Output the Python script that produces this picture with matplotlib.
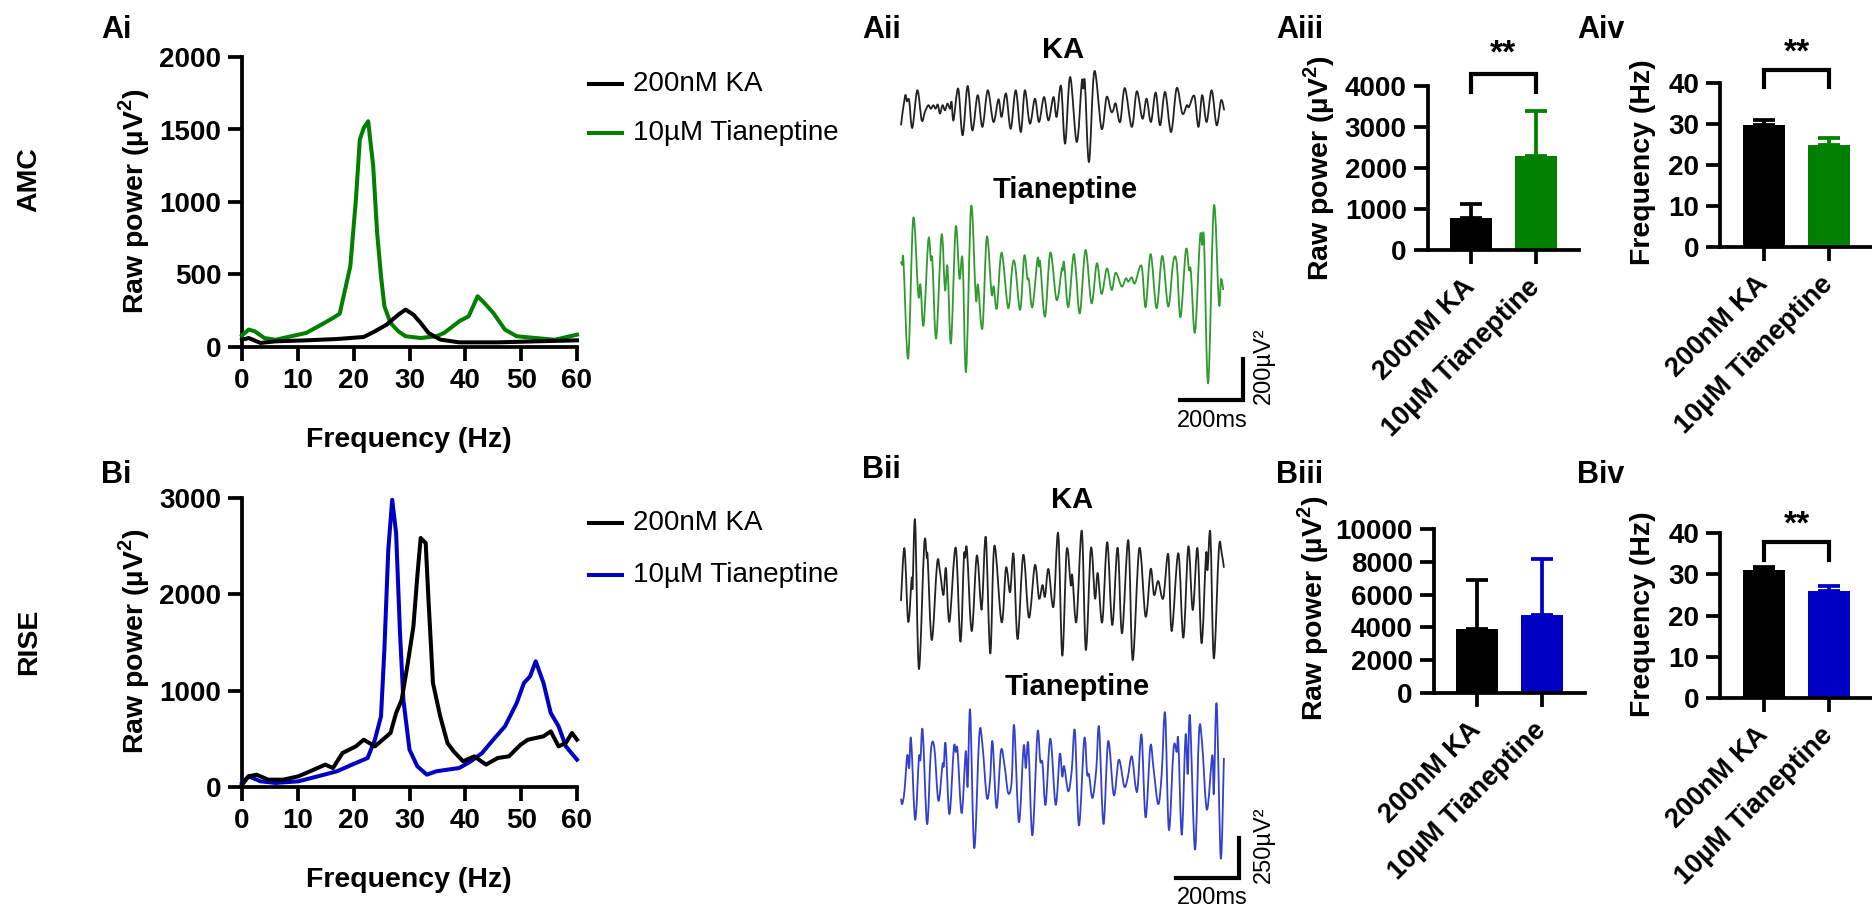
import numpy as np
import matplotlib
matplotlib.use("Agg")
import matplotlib.pyplot as plt
from matplotlib.lines import Line2D
from matplotlib.path import Path
from matplotlib.patches import PathPatch

plt.rcParams['font.family'] = ['Liberation Sans', 'DejaVu Sans']
plt.rcParams['mathtext.fontset'] = 'custom'
plt.rcParams['mathtext.rm'] = 'Liberation Sans'
plt.rcParams['mathtext.bf'] = 'Liberation Sans:bold'

# ---- power spectra (Hz, uV^2) ----
ai_ka_freq = [0, 1.2, 3.3, 6, 11.5, 17, 21.8, 23.8, 25.9, 28, 29.3, 30.7, 32, 33.4, 35.5, 38.9, 45.8, 52.6, 60]
ai_ka_pow = [50, 62, 28, 39, 46, 55, 69, 108, 154, 223, 258, 223, 166, 97, 51, 32, 32, 39, 46]
ai_tn_freq = [0, 1.2, 2.3, 4, 6, 8.8, 11.5, 14.2, 16.3, 17.5, 19.4, 20.4, 21.1, 21.8, 22.6, 23.5, 24.2, 24.9,
              25.5, 26.6, 28, 29.3, 32, 34.8, 36.2, 38.9, 40.6, 42.2, 43.4, 45, 47.1, 49.2, 52.6, 56, 60]
ai_tn_pow = [80, 120, 108, 62, 50, 74, 97, 154, 200, 230, 557, 1017, 1430, 1510, 1557, 1247, 787, 488,
             281, 166, 108, 74, 62, 74, 97, 177, 212, 350, 304, 235, 120, 74, 62, 50, 85]

bi_ka_freq = [0, 1.2, 2.6, 4.7, 7.4, 10.1, 12.2, 14.9, 16.3, 18, 20.4, 21.8, 23.8, 25.2, 26.6, 27.6, 28.6, 29.7,
              30.7, 31.4, 32, 32.9, 33.4, 34.2, 35.5, 36.8, 37.9, 39.6, 41.6, 43.7, 45.8, 47.8, 49.9, 51.2,
              54, 55.3, 56.7, 58, 59.1, 60]
bi_ka_pow = [24, 111, 128, 76, 76, 111, 163, 232, 197, 353, 422, 491, 422, 491, 561, 768, 906, 1287,
             1668, 2187, 2585, 2532, 1944, 1080, 734, 457, 370, 267, 318, 232, 301, 318, 439, 491,
             526, 578, 422, 457, 561, 491]
bi_tn_freq = [0, 1.2, 3.3, 6, 10.1, 13.6, 17, 19.7, 22.5, 23.8, 24.9, 25.5, 26.2, 26.9, 27.6, 28.3, 28.9, 30,
              31.4, 33.1, 34.8, 36.8, 38.9, 41, 43, 45, 47.1, 49.2, 50.5, 51.6, 52.6, 54, 55.3, 56.7, 58, 60]
bi_tn_pow = [42, 111, 59, 42, 59, 111, 163, 232, 301, 491, 734, 1425, 2463, 2982, 2636, 1598, 906, 388,
             215, 128, 163, 180, 197, 267, 353, 491, 630, 872, 1080, 1149, 1305, 1080, 768, 630, 422, 284]

# ---- example traces (ms, uV), peaks and troughs ----
a_ka_t = [0, 13, 19, 26, 36, 52, 66, 76, 87, 95, 103, 110, 117, 124, 132, 140, 148, 156, 161, 167, 182, 196,
          212, 227, 244, 259, 276, 294, 310, 320, 334, 349, 365, 381, 394, 410, 426, 439, 455, 469, 485, 495,
          509, 522, 538, 559, 575, 580, 585, 598, 615, 638, 654, 668, 675, 683, 697, 712, 734, 750, 768, 781,
          795, 810, 824, 840, 859, 877, 895, 909, 916, 933, 946, 958, 972, 988, 1004, 1018, 1028]
a_ka_v = [-65, 78, 52, 57, -78, 106, -41, 0, 33, 16, 33, 16, 36, -8, 33, 8, 41, 16, 49, -41, 114, -114,
          127, -90, 82, -73, 106, -49, 62, -24, 90, -82, 106, -98, 106, -57, 65, -49, 73, -41, 73, -24,
          127, -155, 171, -147, 147, 114, 143, -245, 199, -82, 73, 3, 8, 41, -49, 117, -73, 101, -33, 65,
          -49, 95, -65, 98, -98, 117, -8, 33, 24, 78, -73, 82, -49, 106, -65, 57, 8]
a_tn_t = [0, 4, 8, 23, 39, 55, 62, 72, 87, 95, 100, 112, 129, 140, 148, 159, 174, 186, 196, 207, 223, 238,
          245, 259, 273, 288, 295, 305, 320, 341, 354, 363, 379, 392, 402, 407, 418, 434, 439, 443, 458, 475,
          495, 511, 514, 519, 532, 548, 556, 569, 587, 606, 623, 638, 655, 670, 683, 702, 715, 723, 734, 744,
          765, 778, 794, 813, 831, 850, 866, 877, 889, 906, 916, 922, 935, 951, 958, 964, 977, 995, 1011,
          1018, 1025]
a_tn_v = [106, 90, 106, -367, 318, -57, -8, -204, 212, 114, 106, -269, 237, -33, 82, -293, 274, 24, 114,
          -432, 375, -73, -8, -220, 228, -49, -16, -122, 150, -122, 82, 90, -130, 134, 24, 16, -117, 117, 82,
          98, -163, 150, -82, 68, 62, 98, -117, 134, 65, -147, 163, -98, 98, -52, 73, -33, 52, -16, 24, 8, 29,
          0, 85, -117, 143, -122, 134, -114, 106, 98, -166, 163, 65, 57, -241, 224, 188, 204, -489, 378, -98,
          20, -33]
b_ka_t = [0, 11, 23, 34, 37, 45, 57, 74, 82, 85, 98, 115, 124, 135, 143, 154, 174, 189, 200, 204, 210, 225,
          241, 254, 259, 270, 284, 297, 320, 334, 347, 358, 371, 389, 407, 426, 439, 450, 458, 469, 485, 500,
          513, 527, 540, 545, 558, 575, 588, 604, 617, 626, 640, 656, 672, 689, 703, 723, 737, 758, 778, 794,
          805, 818, 834, 850, 861, 882, 898, 914, 928, 943, 956, 970, 975, 984, 995, 1011, 1020, 1027]
b_ka_v = [-37, 291, -166, 104, 52, 462, -461, 316, 233, 229, -281, 198, 146, 0, 166, -166, 295, -291, 229,
          233, 281, -225, 245, -62, -31, 358, -364, 307, -170, 170, 17, 254, -275, 250, -141, 187, -21, 62,
          -10, 162, -73, 385, -378, 281, 62, 121, -166, 400, -343, 291, -21, 135, -170, 329, -187, 295, -239,
          341, -406, 291, -135, 162, 0, 87, -21, 254, -225, 260, -266, 302, -94, 291, -301, 250, 156, 385,
          -395, 287, 260, 170]
b_tn_t = [0, 4, 11, 20, 26, 32, 45, 57, 62, 69, 83, 95, 106, 119, 132, 136, 142, 154, 168, 174, 180, 193,
          206, 212, 220, 233, 249, 259, 273, 283, 291, 304, 318, 329, 341, 352, 360, 375, 390, 397, 405, 418,
          434, 443, 450, 460, 475, 492, 505, 513, 519, 532, 543, 553, 566, 583, 592, 598, 609, 621, 630, 644,
          659, 677, 693, 710, 721, 734, 746, 753, 765, 778, 793, 803, 818, 829, 840, 852, 867, 877, 882, 893,
          905, 912, 919, 935, 948, 958, 973, 990, 995, 1004, 1017, 1027]
b_tn_v = [-108, -141, -62, 162, 83, 266, -239, 146, 135, 318, -266, 187, 212, -121, 104, 94, 233, -204, 208,
          183, 191, -198, 187, -31, 445, -416, 287, 229, -100, 0, 250, -166, 191, 104, -73, 0, 349, -254, 218,
          83, 233, -337, 302, 125, 114, -146, 266, -146, 170, 31, 94, -62, 67, 316, -275, 266, 46, 42, -104,
          73, 337, -266, 250, -87, 135, -31, 21, 156, -31, -37, 291, -225, 218, 83, -142, 42, 426, -302, 208,
          183, 254, -333, 287, 46, 405, -426, 312, 229, -177, 162, -73, 483, -478, 146]

# ---- group summaries (mean, SEM) ----
groups = ["200nM KA", "10µM Tianeptine"]
aiii_mean = [770, 2290]
aiii_sem = [350, 1110]
aiv_mean = [29.8, 25.0]
aiv_sem = [1.2, 1.6]
biii_mean = [3900, 4750]
biii_sem = [3000, 3450]
biv_mean = [31.0, 26.0]
biv_sem = [0.7, 1.1]

GREEN = "#007f00"
BLUE = "#0000c4"
W, H = 1872, 908
LW = 2.7
fig = plt.figure(figsize=(W / 100, H / 100), dpi=100)


def box(left, top, right, bottom):
    return [left / W, 1 - bottom / H, (right - left) / W, (bottom - top) / H]


def ftext(x, y, s, **kw):
    fig.text(x / W, 1 - y / H, s, **kw)


def style(ax, ticks):
    for side in ["top", "right"]:
        ax.spines[side].set_visible(False)
    for side in ["left", "bottom"]:
        ax.spines[side].set_linewidth(LW)
        ax.spines[side].set_capstyle("projecting")
    ax.tick_params(width=LW, length=10, labelsize=20, pad=5)
    ax.set_yticks(ticks)
    for lab in ax.get_yticklabels() + ax.get_xticklabels():
        lab.set_fontweight("bold")


YLAB = "Raw power (µV$^{\\mathbf{2}}$)"


def spectrum(rect, f1, p1, f2, p2, color, ymax, ystep):
    ax = fig.add_axes(rect)
    ax.plot(f2, p2, color=color, lw=2.9, zorder=3, clip_on=False, solid_joinstyle="round")
    ax.plot(f1, p1, color="black", lw=2.9, zorder=3, clip_on=False, solid_joinstyle="round")
    ax.set_xlim(0, 60)
    ax.set_ylim(0, ymax)
    ax.set_xticks(range(0, 61, 10))
    style(ax, np.arange(0, ymax + 1, ystep))
    return ax


def bars(rect, means, sems, color, ymax, ystep, ylabel_xy, ylabel, sig=None):
    ax = fig.add_axes(rect)
    x = np.arange(len(means))
    cols = ["black", color]
    ax.bar(x, means, width=0.65, color=cols, zorder=2)
    for i in x:
        ax.errorbar(i, means[i], yerr=[[0], [sems[i]]], fmt="none", ecolor=cols[i],
                    elinewidth=LW, capsize=8, capthick=LW, zorder=1)
    ax.set_xlim(-0.67, 1.67)
    ax.set_ylim(0, ymax)
    ax.set_xticks(x)
    ax.set_xticklabels(groups)
    style(ax, np.arange(0, ymax + 1, ystep))
    ax.tick_params(axis="x", pad=14)
    for lab in ax.get_xticklabels():
        lab.set_rotation(45)
        lab.set_ha("right")
        lab.set_va("center")
        lab.set_rotation_mode("anchor")
        lab.set_fontsize(19.5)
    if sig is not None:
        lo, hi, star = sig
        ax.plot([0, 0, 1, 1], [lo, hi, hi, lo], color="black", lw=3.0, clip_on=False,
                solid_joinstyle="miter")
        ax.text(0.5, star, "**", ha="center", va="center", fontsize=24, fontweight="bold")
    ftext(*ylabel_xy, ylabel, rotation=90, ha="center", va="center", fontsize=20.5, fontweight="bold")
    return ax


def smooth_path(t, v):
    # cubic Bezier segments through the read-off points (Catmull-Rom handles)
    pts = np.column_stack([t, v]).astype(float)
    ext = np.vstack([pts[0], pts, pts[-1]])
    verts = [pts[0]]
    codes = [Path.MOVETO]
    for i in range(1, len(ext) - 2):
        p0, p1, p2, p3 = ext[i - 1], ext[i], ext[i + 1], ext[i + 2]
        verts += [p1 + (p2 - p0) / 6, p2 - (p3 - p1) / 6, p2]
        codes += [Path.CURVE4] * 3
    return Path(verts, codes)


def trace(rect, t, v, color, ylim):
    ax = fig.add_axes(rect)
    ax.add_patch(PathPatch(smooth_path(t, v), fill=False, edgecolor=color, lw=1.3,
                           joinstyle="round"))
    ax.set_xlim(-19, 1110)
    ax.set_ylim(*ylim)
    ax.axis("off")
    return ax


# ---- row labels ----
ftext(29, 180, "AMC", rotation=90, ha="center", va="center", fontsize=20.5, fontweight="bold")
ftext(29, 642, "RISE", rotation=90, ha="center", va="center", fontsize=20.5, fontweight="bold")

# ---- panel letters ----
for s, x, y in [("Ai", 101, 30), ("Aii", 862, 30), ("Aiii", 1276, 30), ("Aiv", 1577, 30),
                ("Bi", 101, 475), ("Bii", 862, 470), ("Biii", 1276, 475), ("Biv", 1577, 475)]:
    ftext(x, y, s, ha="left", va="center", fontsize=22, fontweight="bold")

# ---- Ai / Bi spectra ----
spectrum(box(242, 57, 577, 347), ai_ka_freq, ai_ka_pow, ai_tn_freq, ai_tn_pow, GREEN, 2000, 500)
spectrum(box(242, 498, 577, 787), bi_ka_freq, bi_ka_pow, bi_tn_freq, bi_tn_pow, BLUE, 3000, 1000)
for yc, yx in [(201, 440), (641, 880)]:
    ftext(134, yc, YLAB, rotation=90, ha="center", va="center", fontsize=20.5, fontweight="bold")
    ftext(409, yx, "Frequency (Hz)", ha="center", va="center", fontsize=20.5, fontweight="bold")

# legends
for rows, color in [((84, 133), GREEN), ((523, 575), BLUE)]:
    for y, lab, c in zip(rows, ["200nM KA", "10µM Tianeptine"], ["black", color]):
        fig.add_artist(Line2D([589 / W, 622 / W], [1 - y / H, 1 - y / H], color=c, lw=2.9))
        ftext(633, y, lab, ha="left", va="center", fontsize=20)

# ---- Aii / Bii traces ----
trace(box(895, 60, 1250, 175), a_ka_t, a_ka_v, "#222222", (-308, 254))
ax_a = trace(box(895, 195, 1250, 410), a_tn_t, a_tn_v, "#2f9b2f", (-620, 432))
trace(box(895, 510, 1250, 680), b_ka_t, b_ka_v, "#222222", (-530, 530))
ax_b = trace(box(895, 695, 1250, 890), b_tn_t, b_tn_v, "#3340cc", (-678, 539))

# scale bars
ax_a.plot([887, 1087, 1087], [-571, -571, -371], color="black", lw=3.0, clip_on=False,
          solid_joinstyle="miter")
ax_b.plot([875, 1075, 1075], [-603, -603, -353], color="black", lw=3.0, clip_on=False,
          solid_joinstyle="miter")
ftext(1212, 421, "200ms", ha="center", va="center", fontsize=17)
ftext(1212, 898, "200ms", ha="center", va="center", fontsize=17)
ftext(1264, 366, "200µV²", rotation=90, ha="center", va="center", fontsize=17)
ftext(1264, 845, "250µV²", rotation=90, ha="center", va="center", fontsize=17)

for x, y, s in [(1063, 50, "KA"), (1065, 190, "Tianeptine"), (1072, 500, "KA"), (1077, 687, "Tianeptine")]:
    ftext(x, y, s, ha="center", va="center", fontsize=21, fontweight="bold")

# ---- bar panels ----
bars(box(1427.5, 86, 1579, 250), aiii_mean, aiii_sem, GREEN, 4000, 1000, (1319, 168), YLAB,
     sig=(3850, 4290, 4780))
bars(box(1720, 83, 1873, 247), aiv_mean, aiv_sem, GREEN, 40, 10, (1643, 162), "Frequency (Hz)",
     sig=(39.0, 43.2, 47.4))
bars(box(1433.5, 529, 1585, 693), biii_mean, biii_sem, BLUE, 10000, 2000, (1313, 608), YLAB)
bars(box(1720, 533, 1873, 698), biv_mean, biv_sem, BLUE, 40, 10, (1643, 614), "Frequency (Hz)",
     sig=(33.5, 37.9, 42.0))

fig.savefig("out.png", dpi=100)
